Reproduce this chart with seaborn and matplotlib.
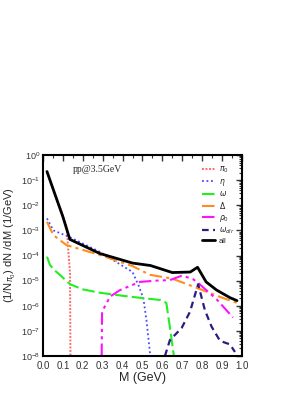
import numpy as np
import pandas as pd
import matplotlib
matplotlib.use("Agg")
import matplotlib.pyplot as plt
import matplotlib.ticker as mticker
import seaborn as sns

# ---- data ----
m_all = [0.02, 0.10, 0.135, 0.286, 0.45, 0.54, 0.65, 0.74, 0.777, 0.82, 0.873, 0.94, 0.975]
y_all = [2.2e-1, 3.5e-3, 4.4e-4, 1.2e-4, 5e-5, 4e-5, 2.1e-5, 2.2e-5, 3.4e-5, 8.9e-6, 4.2e-6, 2.1e-6, 1.6e-6]

m_pi0 = [0.02, 0.06, 0.10, 0.119, 0.127, 0.136, 0.138]
y_pi0 = [2.2e-1, 2.5e-2, 4e-3, 1.4e-3, 1.7e-4, 2e-5, 1e-8]

m_eta = [0.02, 0.052, 0.13, 0.286, 0.45, 0.48, 0.505, 0.52, 0.538, 0.547]
y_eta = [3e-3, 1e-3, 5.6e-4, 1.4e-4, 2.2e-5, 6.6e-6, 1.9e-6, 2.7e-7, 1.3e-8, 1e-8]

m_omega = [0.02, 0.035, 0.06, 0.085, 0.136, 0.2, 0.286, 0.4, 0.505, 0.59, 0.62, 0.638, 0.658]
y_omega = [9e-5, 4.2e-5, 2.5e-5, 1.7e-5, 7.2e-6, 4.5e-6, 3.3e-6, 2.5e-6, 2e-6, 1.7e-6, 1.3e-6, 1.4e-7, 1e-8]

m_delta = [0.02, 0.052, 0.118, 0.286, 0.45, 0.538, 0.65, 0.78, 0.9, 0.975]
y_delta = [2.2e-3, 6.5e-4, 2.6e-4, 1.05e-4, 3.8e-5, 1.7e-5, 1.2e-5, 4.9e-6, 2.1e-6, 1.3e-6]

m_rho = [0.295, 0.297, 0.337, 0.387, 0.487, 0.57, 0.638, 0.70, 0.754, 0.78, 0.873, 0.955]
y_rho = [1e-8, 5.8e-7, 2.3e-6, 4.2e-6, 8.9e-6, 1e-5, 1.05e-5, 1.6e-5, 1.15e-5, 8.1e-6, 1.8e-6, 3.4e-7]

m_wdir = [0.613, 0.638, 0.697, 0.739, 0.78, 0.814, 0.848, 0.89, 0.94, 0.965]
y_wdir = [1e-8, 4.3e-8, 1.3e-7, 5.8e-7, 7.2e-6, 6.6e-7, 1.45e-7, 4e-8, 2.9e-8, 1.45e-8]

labels = [r"$\pi_0$", r"$\eta$", r"$\omega$", r"$\Delta$", r"$\rho_0$", r"$\omega_{dir}$", "all"]
series = [(m_pi0, y_pi0), (m_eta, y_eta), (m_omega, y_omega), (m_delta, y_delta),
          (m_rho, y_rho), (m_wdir, y_wdir), (m_all, y_all)]
colors = ["#ff6a6a", "#4a4aff", "#22ee22", "#ff8c1e", "#ff10ff", "#2c1c80", "#000000"]
styles = [(0, (1, 0.8)), (0, (1, 1.5)), (0, (6, 2)), (0, (6, 2, 1.5, 2)),
          (0, (6, 2, 1.5, 2, 1.5, 2)), (0, (3, 2)), "-"]
widths = [1.4, 1.3, 1.5, 1.5, 1.5, 1.6, 2.0]

sns.set_style("white")
plt.rcParams["font.family"] = ["Liberation Sans", "DejaVu Sans"]
plt.rcParams["mathtext.fontset"] = "dejavusans"

fig = plt.figure(figsize=(3.07, 3.98), dpi=100)
ax = fig.add_axes([0.140, 0.1055, 0.648, 0.505])

for (mx, my), lab, c, ls, lw in zip(series, labels, colors, styles, widths):
    df = pd.DataFrame({"M": mx, "y": my})
    sns.lineplot(data=df, x="M", y="y", ax=ax, color=c, linestyle=ls,
                 linewidth=lw, label=lab, sort=False, estimator=None)

ax.set_yscale("log")
ax.set_xlim(0, 1.0)
ax.set_ylim(1e-8, 1)
ax.xaxis.set_major_locator(mticker.MultipleLocator(0.1))
ax.xaxis.set_minor_locator(mticker.MultipleLocator(0.05))
ax.xaxis.set_major_formatter(mticker.FormatStrFormatter("%.1f"))
ax.yaxis.set_major_locator(mticker.LogLocator(base=10, numticks=20))
ax.yaxis.set_minor_locator(mticker.LogLocator(base=10, subs=np.arange(2, 10), numticks=20))
ax.yaxis.set_minor_formatter(mticker.NullFormatter())
ax.tick_params(which="both", direction="in", top=True, right=True, labelsize=7, colors="#333333")
ax.tick_params(axis="y", which="major", labelsize=6.5, pad=2)
ax.tick_params(which="major", length=4, width=1.0)
ax.tick_params(which="minor", length=2, width=0.8)
for s in ax.spines.values():
    s.set_linewidth(1.5)
    s.set_color("black")

ax.set_xlabel("M (GeV)", fontsize=9, labelpad=1)
ax.set_ylabel(r"(1/N$_{\pi_0}$) dN /dM (1/GeV)", fontsize=8)
ax.yaxis.set_label_coords(-0.125, 0.55)

ax.text(0.15, 0.93, "pp@3.5GeV", transform=ax.transAxes, fontsize=7,
        family="Liberation Serif", va="center")

leg = ax.legend(loc="upper right", frameon=False, fontsize=5.5, handlelength=1.7,
                labelspacing=0.22, handletextpad=0.5, borderaxespad=0.3,
                bbox_to_anchor=(0.99, 0.98))

fig.savefig("out.png", dpi=100)
